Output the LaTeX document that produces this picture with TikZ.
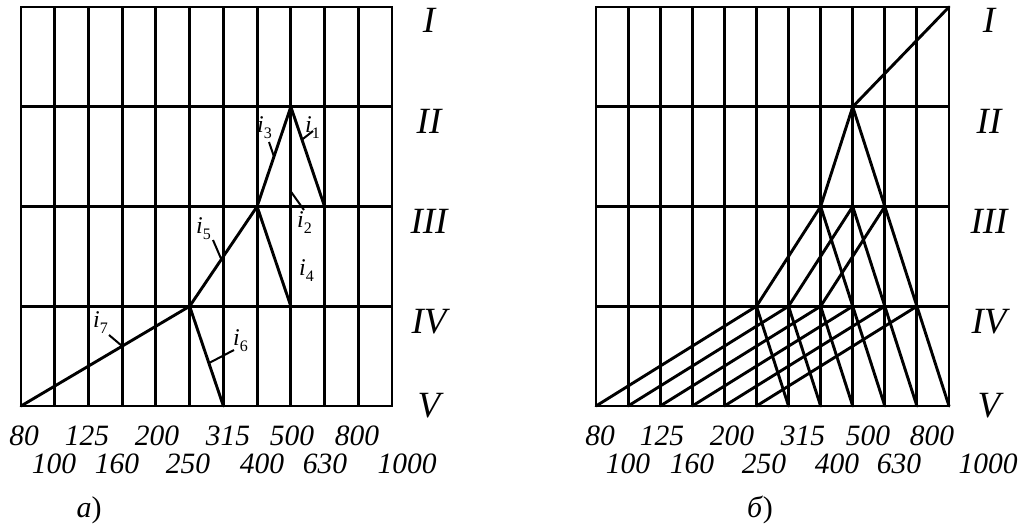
\documentclass[tikz,border=0pt]{standalone}
\usepackage{fontspec}
\setmainfont{Liberation Serif}
\newcommand{\ilab}[1]{{\fontsize{24}{24}\selectfont\itshape i}\raisebox{-6pt}{\fontsize{16}{16}\selectfont\upshape #1}}
\begin{document}
\begin{tikzpicture}[x=1pt,y=-1pt,
  gridline/.style={line width=2.9pt,line cap=rect},
  ray/.style={line width=2.9pt,line cap=round,line join=round},
  leader/.style={line width=2pt},
  num/.style={font=\fontsize{29.5}{29.5}\selectfont\itshape,anchor=base,inner sep=0pt},
  roman/.style={font=\fontsize{37}{37}\selectfont\itshape,anchor=base,inner sep=0pt},
  ilabel/.style={anchor=base west,inner sep=0pt},
  capt/.style={font=\fontsize{30}{30}\selectfont,anchor=base,inner sep=0pt}]
\useasboundingbox (0,0) rectangle (1024,524);
\foreach \k in {0,...,11} {
  \foreach \r in {0,...,4} {
    \coordinate (L\k-\r) at ({21+33.73*\k},{7+99.75*\r});
    \coordinate (R\k-\r) at ({596+32.09*\k},{7+99.75*\r});
  }
}
% grids
\foreach \k in {0,...,11} {
  \draw[gridline] (L\k-0) -- (L\k-4);
  \draw[gridline] (R\k-0) -- (R\k-4);
}
\foreach \r in {0,...,4} {
  \draw[gridline] (L0-\r) -- (L11-\r);
  \draw[gridline] (R0-\r) -- (R11-\r);
}
% left rays
\draw[ray] (L9-2) -- (L8-1) -- (L7-2) -- (L8-3);
\draw[ray] (L7-2) -- (L5-3) -- (L0-4);
\draw[ray] (L5-3) -- (L6-4);
% right rays
\draw[ray] (R11-0) -- (R8-1);
\draw[ray] (R7-2) -- (R8-1) -- (R9-2);
\foreach \k in {7,8,9} {
  \pgfmathtruncatemacro{\a}{\k-2}
  \pgfmathtruncatemacro{\b}{\k+1}
  \draw[ray] (R\a-3) -- (R\k-2) -- (R\b-3);
}
\foreach \k in {5,...,10} {
  \pgfmathtruncatemacro{\a}{\k-5}
  \pgfmathtruncatemacro{\b}{\k+1}
  \draw[ray] (R\a-4) -- (R\k-3) -- (R\b-4);
}
% leaders
\path (L7-2) -- (L8-1) coordinate[pos=0.5] (p3);
\path (L8-1) -- (L9-2) coordinate[pos=0.33] (p1);
\path (L8-1) -- (L8-2) coordinate[pos=0.85] (p2);
\path (L7-2) -- (L5-3) coordinate[pos=0.53] (p5);
\path (L5-3) -- (L6-4) coordinate[pos=0.57] (p6);
\path (L5-3) -- (L0-4) coordinate[pos=0.4] (p7);
\coordinate (q3) at (269,142);
\coordinate (q1) at (313,131);
\coordinate (q2) at (304,210);
\coordinate (q5) at (213,240);
\coordinate (q6) at (234,350);
\coordinate (q7) at (109,335);
\foreach \n in {1,2,3,5,6,7} {\draw[leader] (p\n) -- (q\n);}
% i labels
\node[ilabel] (i3) at (257,132) {\ilab{3}};
\node[ilabel] (i1) at (305,132) {\ilab{1}};
\node[ilabel] (i2) at (297,227) {\ilab{2}};
\node[ilabel] (i4) at (299,275) {\ilab{4}};
\node[ilabel] (i5) at (196,233) {\ilab{5}};
\node[ilabel] (i7) at (93,327) {\ilab{7}};
\node[ilabel] (i6) at (233,345) {\ilab{6}};
% roman numerals
\foreach \t/\y [count=\c] in {I/33,II/133,III/233,IV/333,V/417} {
  \node[roman] (lr\c) at (429,\y) {\t};
  \node[roman] (rr\c) at (989,\y) {\t};
}
% numbers left
\foreach \v/\x in {80/24,125/87,200/157,315/228,500/292,800/357} {\node[num] (la\v) at (\x,445) {\v};}
\foreach \v/\x in {100/54,160/117,250/188,400/262,630/325,1000/407} {\node[num] (lb\v) at (\x,473) {\v};}
% numbers right
\foreach \v/\x in {80/600,125/662,200/732,315/803,500/868,800/932} {\node[num] (ra\v) at (\x,445) {\v};}
\foreach \v/\x in {100/628,160/692,250/764,400/837,630/899,1000/988} {\node[num] (rb\v) at (\x,473) {\v};}
% captions
\node[capt] (ca) at (89,517) {\textit{а})};
\node[capt] (cb) at (760,517) {\textit{б})};
\end{tikzpicture}
\end{document}
